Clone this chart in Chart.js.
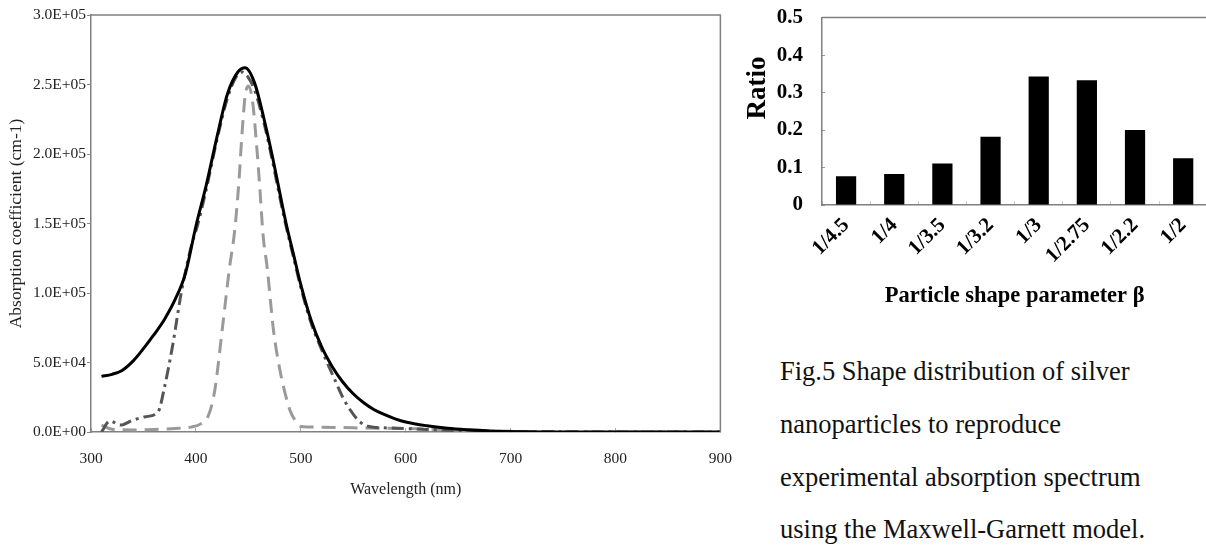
<!DOCTYPE html>
<html>
<head>
<meta charset="utf-8">
<script src="https://cdn.jsdelivr.net/npm/chart.js@4.4.1/dist/chart.umd.min.js"></script>
<style>
  html, body { margin: 0; padding: 0; background: #fff; }
  body { width: 1206px; height: 546px; position: relative; overflow: hidden; }
  #levi { position: absolute; left: 0; top: 0; }
  #desni { position: absolute; left: 740px; top: -17px; }
  #opis {
    position: absolute; left: 780px; top: 345px;
    font-family: "Liberation Serif", "Times New Roman", serif;
    font-size: 26.5px; line-height: 52.8px; color: #111;
    white-space: nowrap;
  }
</style>
</head>
<body>
<canvas id="levi" width="754" height="546"></canvas>
<canvas id="desni" width="473" height="337"></canvas>
<div id="opis">Fig.5 Shape distribution of silver<br>nanoparticles to reproduce<br>experimental absorption spectrum<br>using the Maxwell-Garnett model.</div>
<script>
// Spektar apsorpcije - eksperiment (puna crna linija)
const eksperimentX = [310, 320, 330, 340, 350, 360, 370, 380, 390, 400, 410, 420, 430, 440, 447, 456, 465, 473, 480, 486, 493, 500, 510, 520, 530, 540, 550, 560, 570, 580, 590, 600, 620, 640, 660, 680, 700, 750, 800, 900];
const eksperimentY = [40000, 41500, 44500, 51000, 60000, 70000, 81000, 95000, 114000, 148000, 178000, 212000, 243000, 259000, 262000, 251000, 225000, 198000, 172000, 150000, 128000, 106000, 80000, 61000, 47000, 36000, 27500, 21000, 16000, 12500, 9500, 7200, 4500, 2700, 1600, 800, 300, 0, 0, 0];

// Raspodela oblika (crta-tacka, tamno siva)
const raspodelaX = [310, 318, 328, 340, 352, 364, 370, 378, 386, 395, 402, 410, 420, 430, 438, 444, 450, 456, 465, 473, 480, 486, 493, 500, 510, 520, 528, 534, 540, 547, 556, 565, 580, 600, 620, 650, 700, 750, 800, 900];
const raspodelaY = [0, 8000, 5000, 8500, 11000, 14500, 32000, 63000, 100000, 132000, 150000, 175000, 210000, 240000, 255000, 259000, 255000, 246000, 222000, 195000, 169000, 148000, 126000, 104000, 78000, 59000, 45000, 35000, 25000, 16000, 7500, 4000, 3000, 2500, 1800, 1000, 300, 100, 0, 0];

// Jedan oblik (isprekidana, svetlo siva)
const jedanOblikX = [310, 320, 340, 360, 380, 395, 405, 412, 418, 425, 432, 437, 441, 444, 447, 450, 454, 458, 461, 464, 468, 474, 480, 485, 490, 495, 500, 520, 550, 600, 650, 700, 750, 800, 900];
const jedanOblikY = [5000, 2000, 1500, 1800, 2500, 3500, 6000, 12000, 30000, 73000, 118000, 145000, 180000, 215000, 242000, 249000, 238000, 205000, 175000, 142000, 118000, 73000, 45000, 28000, 15000, 8000, 4000, 3500, 3000, 2500, 1500, 500, 200, 0, 0];

// Histogram parametra oblika
const parametriBeta = ['1/4.5', '1/4', '1/3.5', '1/3.2', '1/3', '1/2.75', '1/2.2', '1/2'];
const udeli = [0.077, 0.083, 0.111, 0.182, 0.343, 0.333, 0.2, 0.125];

const serif = '"Liberation Serif", "Times New Roman", serif';

function uTacke(xs, ys) {
    return xs.map((x, i) => ({ x: x, y: ys[i] }));
}

function naucniZapis(v) {
    if (v === 0) return '0.0E+00';
    const e = Math.floor(Math.log10(v) + 1e-9);
    const m = v / Math.pow(10, e);
    return m.toFixed(1) + 'E+' + String(e).padStart(2, '0');
}

// okvir oko oblasti grafika (gornja i desna ivica)
const ramka = {
    id: 'ramka',
    afterDraw(chart, args, o) {
        const { ctx, chartArea: a } = chart;
        ctx.save();
        ctx.strokeStyle = o.color;
        ctx.lineWidth = o.width;
        ctx.beginPath();
        ctx.moveTo(a.left, a.top);
        ctx.lineTo(a.right, a.top);
        if (o.right) ctx.lineTo(a.right, a.bottom);
        ctx.stroke();
        ctx.restore();
    }
};

// uspravni naslov ose na zadatom mestu
const bocniNaslov = {
    id: 'bocniNaslov',
    afterDraw(chart, args, o) {
        if (!o.text) return;
        const ctx = chart.ctx;
        ctx.save();
        ctx.translate(o.x, o.y);
        ctx.rotate(-Math.PI / 2);
        ctx.font = o.font;
        ctx.fillStyle = o.color;
        ctx.textAlign = 'center';
        ctx.textBaseline = 'middle';
        ctx.fillText(o.text, 0, 0);
        ctx.restore();
    }
};

new Chart(document.getElementById('levi'), {
    type: 'line',
    data: {
        datasets: [
            {
                label: 'Experiment',
                data: uTacke(eksperimentX, eksperimentY),
                borderColor: '#000',
                borderWidth: 3,
                pointRadius: 0,
                tension: 0.4,
                cubicInterpolationMode: 'monotone'
            },
            {
                label: 'Shape distribution',
                data: uTacke(raspodelaX, raspodelaY),
                borderColor: '#555',
                borderWidth: 3,
                borderDash: [12, 5, 3, 5],
                pointRadius: 0,
                tension: 0.4,
                cubicInterpolationMode: 'monotone'
            },
            {
                label: 'Single shape',
                data: uTacke(jedanOblikX, jedanOblikY),
                borderColor: '#9a9a9a',
                borderWidth: 3,
                borderDash: [14, 8],
                pointRadius: 0,
                tension: 0.4,
                cubicInterpolationMode: 'monotone'
            }
        ]
    },
    options: {
        responsive: false,
        animation: false,
        devicePixelRatio: 1,
        layout: { padding: { top: 15, right: 0, left: 0, bottom: 0 } },
        plugins: {
            legend: { display: false },
            tooltip: { enabled: false },
            ramka: { color: '#808080', width: 1.5, right: true }
        },
        scales: {
            x: {
                type: 'linear',
                min: 300,
                max: 900,
                ticks: { stepSize: 100, padding: 22, color: '#222', font: { family: serif, size: 15.5 } },
                grid: { drawOnChartArea: false, tickLength: -4, color: '#aaa' },
                border: { color: '#808080', width: 1.5 },
                title: {
                    display: true,
                    text: 'Wavelength (nm)',
                    color: '#222',
                    font: { family: serif, size: 16 },
                    padding: { top: 0, bottom: 47 }
                },
                afterFit: s => { s.height = 114; }
            },
            y: {
                min: 0,
                max: 300000,
                ticks: { stepSize: 50000, padding: 1, color: '#222', font: { family: serif, size: 15.5 }, callback: v => naucniZapis(v) },
                grid: { drawOnChartArea: false, tickLength: 4, color: '#888' },
                border: { color: '#808080', width: 1.5 },
                title: {
                    display: true,
                    text: 'Absorption coefficient (cm-1)',
                    color: '#222',
                    font: { family: serif, size: 17.5 },
                    padding: { top: 6, bottom: 0 }
                },
                afterFit: s => { s.width = 91; }
            }
        }
    },
    plugins: [ramka]
});

new Chart(document.getElementById('desni'), {
    type: 'bar',
    data: {
        labels: parametriBeta,
        datasets: [{
            label: 'Ratio',
            data: udeli,
            backgroundColor: '#000',
            borderWidth: 0,
            barPercentage: 0.42,
            categoryPercentage: 1
        }]
    },
    options: {
        responsive: false,
        animation: false,
        devicePixelRatio: 1,
        layout: { padding: { top: 0, right: 0, left: 0, bottom: 0 } },
        plugins: {
            legend: { display: false },
            tooltip: { enabled: false },
            ramka: { color: '#808080', width: 1.5, right: false },
            bocniNaslov: { text: 'Ratio', x: 18, y: 105, font: 'bold 27px ' + serif, color: '#000' }
        },
        scales: {
            x: {
                ticks: { minRotation: 45, maxRotation: 45, padding: 12, color: '#000', font: { family: serif, size: 21, weight: 'bold' } },
                grid: { drawOnChartArea: false, tickLength: -4, color: '#ccc' },
                border: { color: '#808080', width: 1.5 },
                title: {
                    display: true,
                    text: 'Particle shape parameter β',
                    color: '#000',
                    font: { family: serif, size: 22.5, weight: 'bold' },
                    padding: { top: 0, bottom: 10 }
                },
                afterFit: s => { s.height = 115; }
            },
            y: {
                min: 0,
                max: 0.5,
                ticks: { stepSize: 0.1, padding: 22, color: '#000', font: { family: serif, size: 21, weight: 'bold' } },
                grid: { drawOnChartArea: false, tickLength: -3, color: '#999' },
                border: { color: '#808080', width: 1.5 },
                afterFit: s => { s.width = 82; }
            }
        }
    },
    plugins: [ramka, bocniNaslov]
});
</script>
</body>
</html>
